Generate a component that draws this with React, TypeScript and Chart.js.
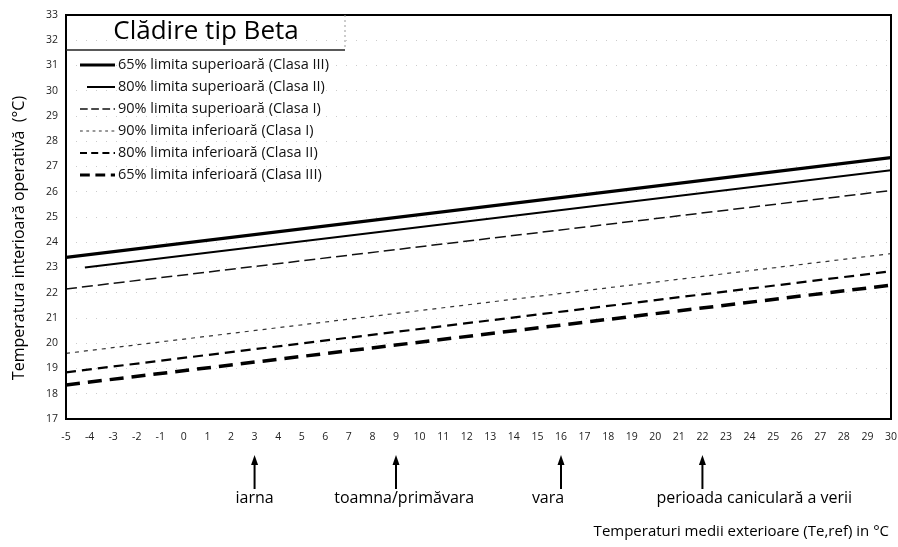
import { useEffect, useRef } from "react";
import { Chart, registerables } from "chart.js";

Chart.register(...registerables);

// ---- data ----
const xMin = -5;
const xMax = 30;
const yMin = 17;
const yMax = 33;

const seriesLabels = [
  "65% limita superioară (Clasa III)",
  "80% limita superioară (Clasa II)",
  "90% limita superioară (Clasa I)",
  "90% limita inferioară (Clasa I)",
  "80% limita inferioară (Clasa II)",
  "65% limita inferioară (Clasa III)",
];

const tempExt = [-5, 30];
const tempExtSup80 = [-4.2, 30];

const sup65 = [23.4, 27.35];
const sup80 = [23.0, 26.85];
const sup90 = [22.15, 26.05];
const inf90 = [19.6, 23.55];
const inf80 = [18.85, 22.85];
const inf65 = [18.35, 22.3];

const seasonX = [3, 9, 16, 22];
const seasonLabelX = [3, 9.35, 15.45, 24.2];
const seasonLabels = ["iarna", "toamna/primăvara", "vara", "perioada caniculară a verii"];

const chartTitle = "Clădire tip Beta";
const xTitle = "Temperaturi medii exterioare (Te,ref) in °C";
const yTitle = "Temperatura interioară operativă  (°C)";

const FONT = "'Open Sans', 'DejaVu Sans', sans-serif";

function pts(xs: number[], ys: number[]) {
  return xs.map((x, i) => ({ x, y: ys[i] }));
}

const styles = [
  { width: 3.2, dash: [] as number[], color: "#000" },
  { width: 2, dash: [] as number[], color: "#000" },
  { width: 1.5, dash: [11, 5], color: "#111" },
  { width: 1.2, dash: [4, 5], color: "#333" },
  { width: 2.2, dash: [10, 6], color: "#000" },
  { width: 3.5, dash: [14, 8], color: "#000" },
];

const decorPlugin = {
  id: "decor",
  afterDraw(chart: any) {
    const { ctx, chartArea } = chart;
    const xs = chart.scales.x;
    ctx.save();

    // frame
    ctx.strokeStyle = "#000";
    ctx.lineWidth = 2;
    ctx.setLineDash([]);
    ctx.strokeRect(chartArea.left, chartArea.top, chartArea.right - chartArea.left, chartArea.bottom - chartArea.top);

    // title box
    ctx.lineWidth = 1.5;
    ctx.strokeStyle = "#222";
    ctx.beginPath();
    ctx.moveTo(chartArea.left, 50);
    ctx.lineTo(345, 50);
    ctx.stroke();
    ctx.lineWidth = 1;
    ctx.strokeStyle = "#999";
    ctx.setLineDash([2, 3]);
    ctx.beginPath();
    ctx.moveTo(345, chartArea.top);
    ctx.lineTo(345, 50);
    ctx.stroke();
    ctx.setLineDash([]);

    ctx.fillStyle = "#000";
    ctx.font = `26px ${FONT}`;
    ctx.textAlign = "center";
    ctx.textBaseline = "middle";
    ctx.fillText(chartTitle, 206, 32);

    // legend
    ctx.font = `14.5px ${FONT}`;
    ctx.textAlign = "left";
    chart.data.datasets.forEach((ds: any, i: number) => {
      const y = 65 + i * 22;
      const st = styles[i];
      ctx.strokeStyle = st.color;
      ctx.lineWidth = Math.min(st.width, 3);
      ctx.setLineDash(st.dash.length ? st.dash.map((d: number) => d * 0.7) : []);
      ctx.beginPath();
      ctx.moveTo(i === 1 ? 87 : 80, y);
      ctx.lineTo(115, y);
      ctx.stroke();
      ctx.setLineDash([]);
      ctx.fillStyle = "#111";
      ctx.fillText(ds.label, 118, y);
    });

    // season arrows
    ctx.fillStyle = "#000";
    ctx.strokeStyle = "#000";
    seasonX.forEach((v, i) => {
      const px = xs.getPixelForValue(v);
      ctx.lineWidth = 2;
      ctx.beginPath();
      ctx.moveTo(px, 462);
      ctx.lineTo(px, 489);
      ctx.stroke();
      ctx.beginPath();
      ctx.moveTo(px, 455);
      ctx.lineTo(px - 3.5, 465);
      ctx.lineTo(px + 3.5, 465);
      ctx.closePath();
      ctx.fill();
      ctx.font = `16px ${FONT}`;
      ctx.textAlign = "center";
      ctx.textBaseline = "middle";
      ctx.fillText(seasonLabels[i], xs.getPixelForValue(seasonLabelX[i]), 498);
    });

    // axis titles
    ctx.font = `15px ${FONT}`;
    ctx.textAlign = "right";
    ctx.textBaseline = "middle";
    ctx.fillText(xTitle, 889, 532);

    ctx.translate(19, 238);
    ctx.rotate(-Math.PI / 2);
    ctx.textAlign = "center";
    ctx.font = `16px ${FONT}`;
    ctx.fillText(yTitle, 0, 0);
    ctx.restore();
  },
};

export default function App() {
  const ref = useRef<HTMLCanvasElement | null>(null);

  useEffect(() => {
    document.body.style.margin = "0";
    const canvas = ref.current;
    if (!canvas) return;
    const allX = [tempExt, tempExtSup80, tempExt, tempExt, tempExt, tempExt];
    const allY = [sup65, sup80, sup90, inf90, inf80, inf65];
    const chart = new Chart(canvas, {
      type: "line",
      data: {
        datasets: allY.map((ys, i) => ({
          label: seriesLabels[i],
          data: pts(allX[i], ys),
          borderColor: styles[i].color,
          borderWidth: styles[i].width,
          borderDash: styles[i].dash,
          pointRadius: 0,
          fill: false,
          tension: 0,
          borderCapStyle: "butt" as const,
        })),
      },
      options: {
        responsive: false,
        animation: false,
        layout: { padding: { top: 15, right: 7, left: 0, bottom: 0 } },
        plugins: {
          legend: { display: false },
          tooltip: { enabled: false },
          title: { display: false },
        },
        scales: {
          x: {
            type: "linear",
            min: xMin,
            max: xMax,
            grid: { display: false, drawTicks: false },
            border: { display: false },
            ticks: {
              stepSize: 1,
              autoSkip: false,
              maxRotation: 0,
              padding: 12,
              color: "#222",
              font: { size: 10.5, family: FONT },
            },
            afterFit(scale: any) {
              scale.height = 128;
              scale.paddingLeft = 0;
              scale.paddingRight = 0;
            },
          },
          y: {
            min: yMin,
            max: yMax,
            grid: { display: true, drawTicks: false, color: "rgba(0,0,0,0.2)", lineWidth: 1 },
            border: { display: false, dash: [1, 9] },
            ticks: {
              stepSize: 1,
              padding: 8,
              color: "#222",
              font: { size: 10.5, family: FONT },
            },
            afterFit(scale: any) {
              scale.width = 66;
            },
          },
        },
      },
      plugins: [decorPlugin],
    });
    return () => chart.destroy();
  }, []);

  return (
    <div style={{ width: 898, height: 547, background: "#fff" }}>
      <canvas ref={ref} width={898} height={547} style={{ display: "block" }} />
    </div>
  );
}
